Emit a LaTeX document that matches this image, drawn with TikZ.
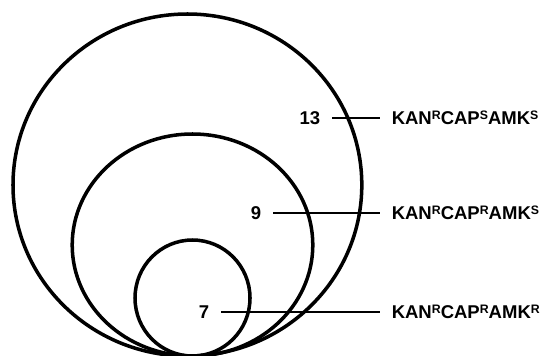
\documentclass[tikz,border=0pt]{standalone}
\usepackage{fontspec}
\setmainfont{Liberation Sans}
\usetikzlibrary{positioning}
\newcommand\res[1]{\raisebox{.3em}{\fontsize{10.5}{11}\selectfont #1}}
\tikzset{
  num/.style={font=\bfseries\fontsize{15.8}{18}\selectfont,inner xsep=.3cm,inner ysep=0pt,anchor=east},
  strain/.style={num,anchor=west},
  link/.style={line width=2pt}
}
\begin{document}
\begin{tikzpicture}[x=.03cm,y=.03cm,line width=3pt]
 \useasboundingbox (0,0) rectangle (543,355);
 % nested circles
 \draw (187.4,170) ellipse [x radius=174.4,y radius=171];
 \draw (192.5,110) ellipse [x radius=120.3,y radius=111];
 \draw (192.5,57) ellipse [x radius=57.5,y radius=58];
 % counts and strains
 \node[num] (n13) at (332,237) {13};
 \node[num] (n9) at (273,142) {9};
 \node[num] (n7) at (221,43.3) {7};
 \node[strain] (s13) at (380,237) {KAN\res{R}CAP\res{S}AMK\res{S}};
 \node[strain] (s9) at (380,142) {KAN\res{R}CAP\res{R}AMK\res{S}};
 \node[strain] (s7) at (380,43.3) {KAN\res{R}CAP\res{R}AMK\res{R}};
 \draw[link] (n13) -- (s13);
 \draw[link] (n9) -- (s9);
 \draw[link] (n7) -- (s7);
\end{tikzpicture}
\end{document}
